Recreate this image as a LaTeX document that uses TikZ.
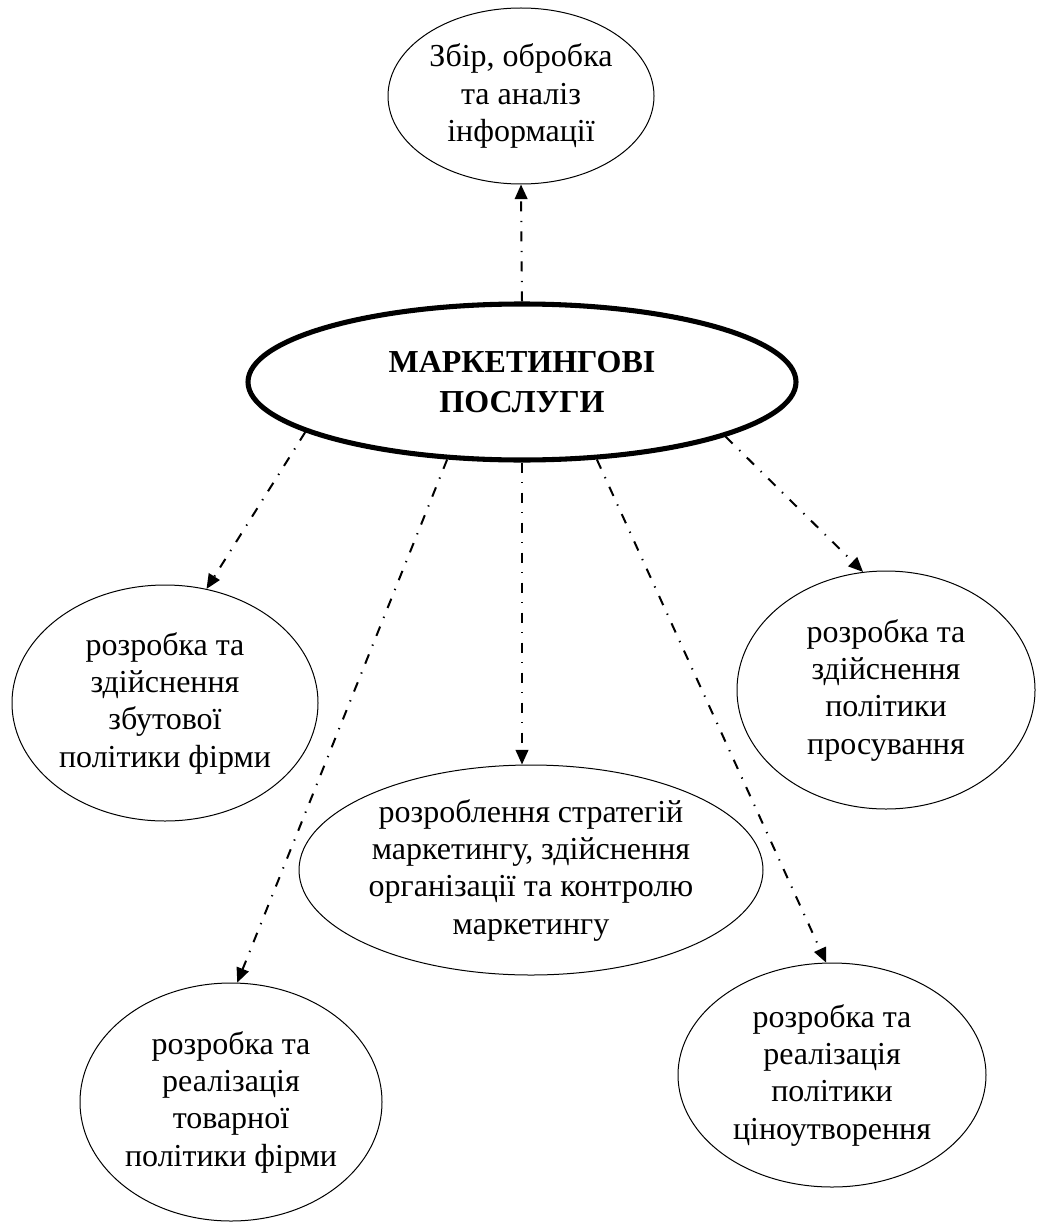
\documentclass[tikz,border=0pt]{standalone}
\usepackage{fontspec}
\setmainfont{Liberation Serif}
\usetikzlibrary{shapes.geometric,arrows.meta}
\begin{document}
\begin{tikzpicture}[x=0.75pt,y=-0.75pt,
  bubble/.style={ellipse,draw,line width=0.75pt,inner sep=0pt,align=center,
    font=\fontsize{24}{28}\selectfont},
  hub/.style={bubble,line width=3.8pt,font=\fontsize{24}{30}\selectfont\bfseries},
  link/.style={line width=1.5pt,dash pattern=on 7.5pt off 7pt on 1pt off 7pt,
    -{Triangle[length=11pt,width=9.5pt]}}]
\useasboundingbox (0,0) rectangle (1036,1223);

% central topic
\node[hub,minimum width=411pt,minimum height=117pt] (c) at (522,382)
  {МАРКЕТИНГОВІ\\ПОСЛУГИ};

% surrounding activities
\node[bubble,minimum width=199.5pt,minimum height=132pt] (t) at (521,96)
  {Збір, обробка\\та аналіз\\інформації};
\node[bubble,minimum width=229.5pt,minimum height=177pt] (l) at (165,703)
  {розробка та\\здійснення\\збутової\\політики фірми};
\node[bubble,minimum width=223.5pt,minimum height=178.5pt] (r) at (886,690)
  {розробка та\\здійснення\\політики\\просування};
\node[bubble,minimum width=348pt,minimum height=157.5pt] (m) at (531,870)
  {розроблення стратегій\\маркетингу, здійснення\\організації та контролю\\маркетингу};
\node[bubble,minimum width=226.5pt,minimum height=178.5pt] (bl) at (231,1102)
  {розробка та\\реалізація\\товарної\\політики фірми};
\node[bubble,minimum width=231pt,minimum height=168pt] (br) at (832,1075)
  {розробка та\\реалізація\\політики\\ціноутворення};

% dash-dot connectors
\draw[link] (c.north) -- (t.south);
\draw[link] (c.193.5) -- (l.70);
\draw[link] (c.226) -- (bl.87);
\draw[link] (c.south) -- (c.south |- m.north);
\draw[link] (c.314) -- (br.93);
\draw[link] (c.345) -- (r.101);
\end{tikzpicture}
\end{document}
